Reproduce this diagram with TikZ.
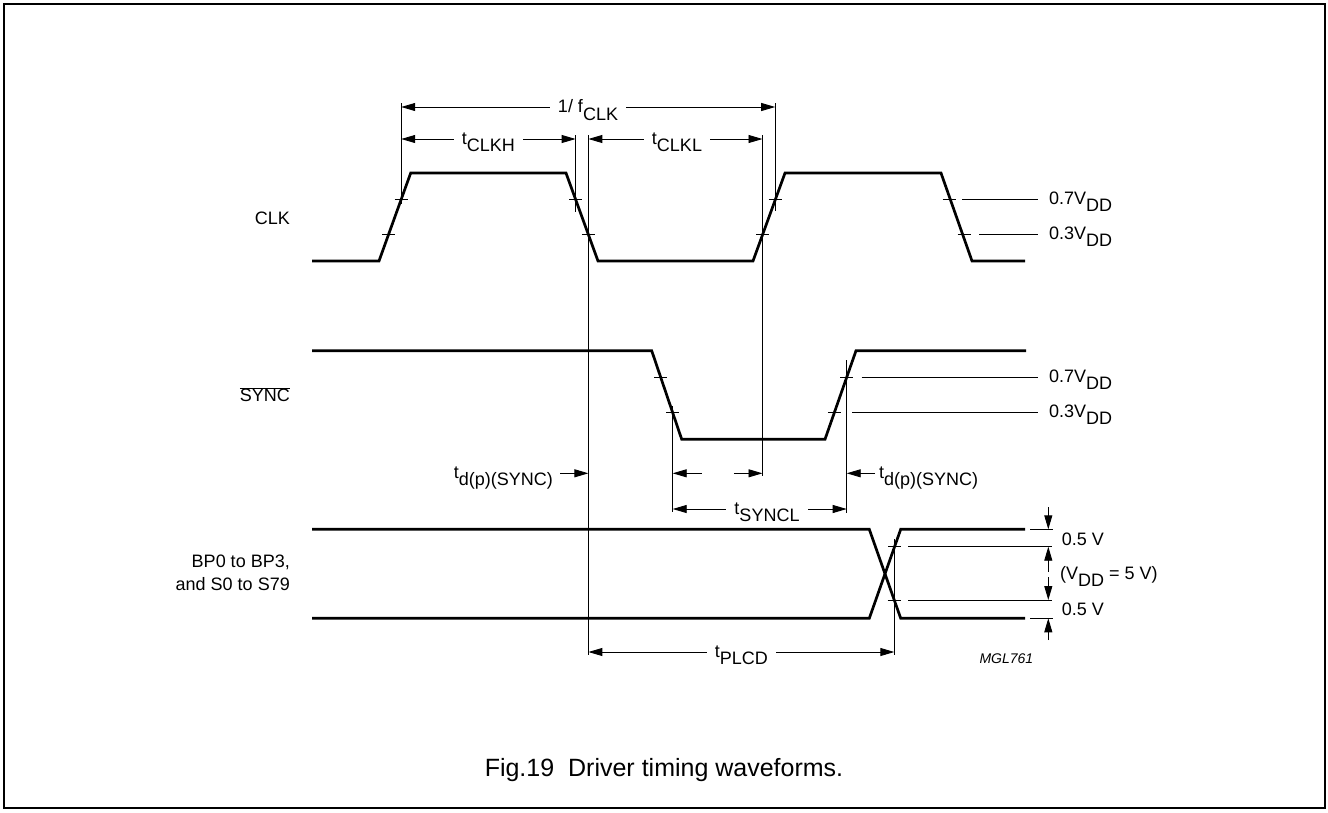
\documentclass[tikz,border=0pt]{standalone}
\usepackage{fontspec}
\setmainfont{Liberation Sans}
\usetikzlibrary{arrows.meta}
\newcommand{\lowsub}[2]{#1\raisebox{-7.5pt}{#2}}
\newcommand{\tk}[2]{\draw[tickline] (#1-6.5,#2) -- (#1+6.5,#2);}
\begin{document}
\begin{tikzpicture}[x=1pt,y=-1pt,
  wave/.style={line width=2.7pt, line join=miter},
  tickline/.style={line width=0.9pt},
  thinline/.style={line width=0.9pt},
  dimone/.style={line width=0.9pt, -{Triangle[length=14pt,width=8pt]}},
  dimtwo/.style={line width=0.9pt, {Triangle[length=14pt,width=8pt]}-{Triangle[length=14pt,width=8pt]}},
  lbl/.style={font=\fontsize{18}{22}\selectfont, inner sep=0pt},
  gaplbl/.style={lbl, fill=white, inner xsep=8pt, inner ysep=1pt, anchor=base},
]
\useasboundingbox (0,0) rectangle (1328,812);
\draw[line width=2pt] (4,4) rectangle (1325,808);

% ---------- key x positions
\coordinate (a) at (401.2,0);   % CLK rise 0.7
\coordinate (b) at (575.6,0);   % CLK fall 0.7
\coordinate (c) at (588.4,0);   % CLK fall 0.3
\coordinate (d) at (762.5,0);   % CLK rise2 0.3
\coordinate (e) at (775.2,0);   % CLK rise2 0.7
\coordinate (f) at (672.7,0);   % SYNC fall 0.3
\coordinate (g) at (846.7,0);   % SYNC rise 0.7
\coordinate (h) at (894.3,0);   % BP crossing

% ---------- vertical reference lines
\draw[thinline] (401.2,103) -- (401.2,204);
\draw[thinline] (775.2,103) -- (775.2,211);
\draw[thinline] (575.6,135) -- (575.6,212);
\draw[thinline] (588.4,135) -- (588.4,655);
\draw[thinline] (762.5,135) -- (762.5,476);
\draw[thinline] (672.7,406) -- (672.7,512);
\draw[thinline] (846.7,360) -- (846.7,513);
\draw[thinline] (894.3,539) -- (894.3,655);

% ---------- CLK
\node[lbl, anchor=base east] (lclk) at (290,224.3) {CLK};
\draw[wave] (312,261) -- (379,261) -- (410.7,173) -- (566,173) -- (598,261)
  -- (753,261) -- (785,173) -- (941,173) -- (972,261) -- (1025,261);
\tk{388.5}{234.6} \tk{401.2}{199.4}
\tk{575.6}{199.4} \tk{588.4}{234.6}
\tk{762.5}{234.6} \tk{775.2}{199.4}
\tk{949}{199.4} \tk{964}{234.6}
\draw[thinline] (962,199.4) -- (1038,199.4);
\draw[thinline] (979,234.6) -- (1038,234.6);
\node[lbl, anchor=base west] (c07) at (1049,204) {\lowsub{0.7V}{DD}};
\node[lbl, anchor=base west] (c03) at (1049,239) {\lowsub{0.3V}{DD}};

% dimension arrows on top
\draw[dimtwo] (401.2,107) -- (775.2,107);
\node[gaplbl] (fclk) at (588,112.5) {1/ \lowsub{f}{CLK}};
\draw[dimtwo] (401.2,139) -- (575.6,139);
\node[gaplbl] (tclkh) at (488.4,144) {\lowsub{t}{CLKH}};
\draw[dimtwo] (588.4,139) -- (762.5,139);
\node[gaplbl] (tclkl) at (677,144) {\lowsub{t}{CLKL}};

% ---------- SYNC
\node[lbl, anchor=base east] (lsync) at (290,401.7) {$\overline{\hbox{SYNC}}$};
\draw[wave] (312,350.7) -- (651.7,350.7) -- (681.7,439.3) -- (825,439.3)
  -- (856,350.7) -- (1026,350.7);
\tk{660.7}{377.3} \tk{672.7}{412.7}
\tk{834.3}{412.7} \tk{846.7}{377.3}
\draw[thinline] (861.7,377.3) -- (1038,377.3);
\draw[thinline] (852.3,412.7) -- (1038,412.7);
\node[lbl, anchor=base west] (s07) at (1049,382) {\lowsub{0.7V}{DD}};
\node[lbl, anchor=base west] (s03) at (1049,417) {\lowsub{0.3V}{DD}};

\draw[dimone] (560,473.3) -- (588.4,473.3);
\node[lbl, anchor=base east] (tdl) at (553,478) {\lowsub{t}{d(p)(SYNC)}};
\draw[dimone] (701.7,473.3) -- (672.7,473.3);
\draw[dimone] (733.8,473.3) -- (762.5,473.3);
\draw[dimone] (875,473.3) -- (846.7,473.3);
\node[lbl, anchor=base west] (tdr) at (879,478) {\lowsub{t}{d(p)(SYNC)}};
\draw[dimtwo] (672.7,509) -- (846.7,509);
\node[gaplbl] (tsyncl) at (767,514) {\lowsub{t}{SYNCL}};

% ---------- BP / S
\node[lbl, anchor=base east] (lbp1) at (290,567) {BP0 to BP3,};
\node[lbl, anchor=base east] (lbp2) at (290,590) {and S0 to S79};
\draw[wave] (312,529.3) -- (869.3,529.3) -- (900.7,618.3) -- (1025,618.3);
\draw[wave] (312,618.3) -- (869.3,618.3) -- (900.7,529.3) -- (1025,529.3);
\tk{894.5}{546.7} \tk{894.2}{600}
\draw[thinline] (908.3,546.7) -- (1051.7,546.7);
\draw[thinline] (908.3,600) -- (1051.7,600);
\draw[thinline] (1030,529.3) -- (1052.7,529.3);
\draw[thinline] (1030,618.3) -- (1052.7,618.3);
\draw[dimone] (1048.3,507.3) -- (1048.3,529.3);
\draw[dimone] (1048.3,571.7) -- (1048.3,546.7);
\draw[dimone] (1048.3,577) -- (1048.3,600);
\draw[dimone] (1048.3,640) -- (1048.3,618.3);
\node[lbl, anchor=base west] (v05a) at (1061.7,545.7) {0.5 V};
\node[lbl, anchor=base west] (vdd) at (1060,579) {(\lowsub{V}{DD} = 5 V)};
\node[lbl, anchor=base west] (v05b) at (1061.7,615) {0.5 V};

\draw[dimtwo] (588.4,652) -- (894.3,652);
\node[gaplbl] (tplcd) at (741.3,657) {\lowsub{t}{PLCD}};
\node[lbl, font=\fontsize{14}{16}\selectfont\itshape, anchor=base west] (mgl) at (979.3,663) {MGL761};

% ---------- caption
\node[lbl, font=\fontsize{25}{28}\selectfont, anchor=base] (cap) at (664,776) {Fig.19\hspace{0.28em} Driver timing waveforms.};
\end{tikzpicture}
\end{document}
